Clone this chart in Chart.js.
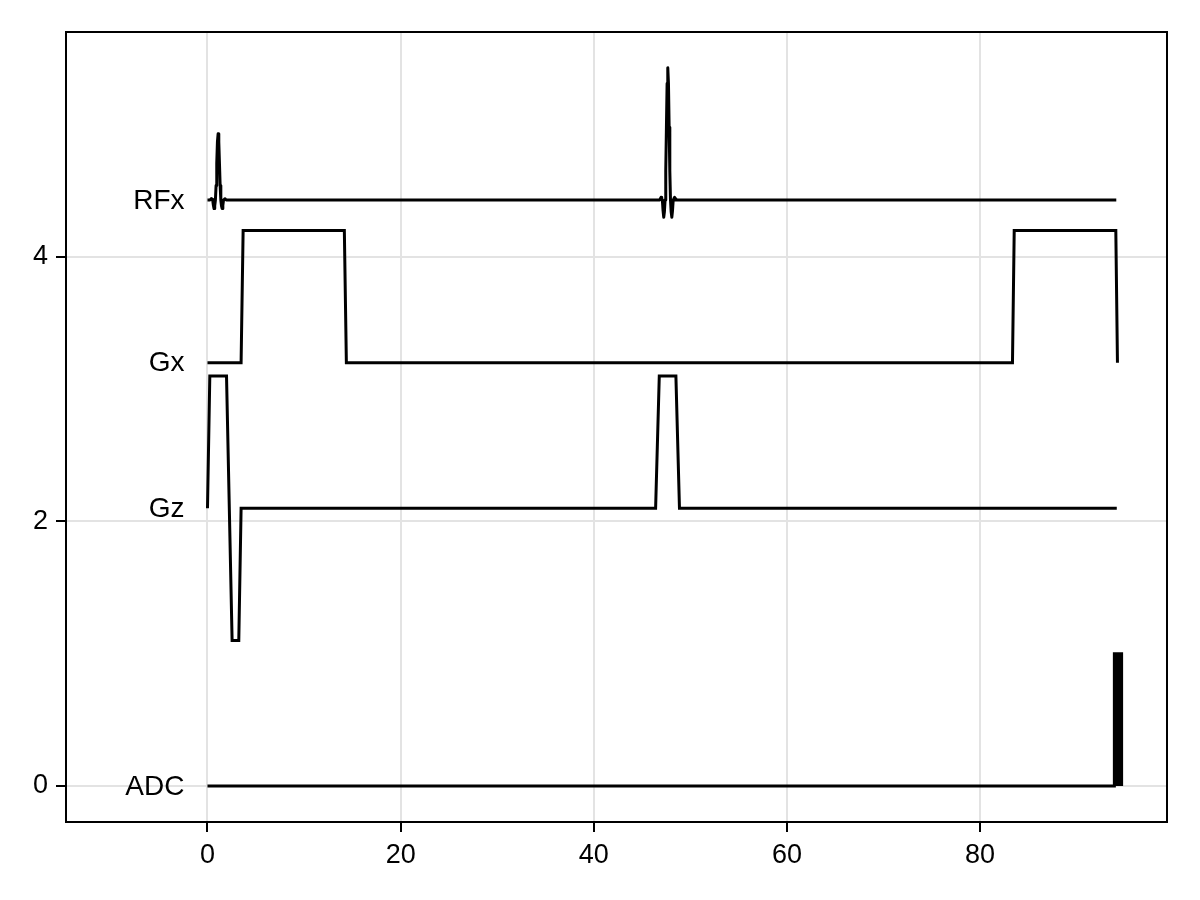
<!DOCTYPE html>
<html>
<head>
<meta charset="utf-8">
<script src="https://cdn.jsdelivr.net/npm/chart.js@4.4.1/dist/chart.umd.min.js"></script>
<style>
  body { margin: 0; background: #fff; }
  #wrap { width: 1200px; height: 900px; }
</style>
</head>
<body>
<div id="wrap"><canvas id="seqChart" width="1200" height="900"></canvas></div>
<script>
// tick values
const xTickValues = [0, 20, 40, 60, 80];
const yTickValues = [0, 2, 4];

// channel names and their baselines
const channelNames = ['RFx', 'Gx', 'Gz', 'ADC'];
const channelBaselines = [4.43, 3.2, 2.1, 0];

// RF pulse (two sinc pulses)
const rfX = [0, 0.26, 0.33, 0.40, 0.47, 0.54, 0.61, 0.68, 0.75, 0.82, 0.89, 0.96, 1.03, 1.10,
  1.17, 1.24, 1.31, 1.38, 1.45, 1.52, 1.59, 1.66, 1.73, 1.80, 1.87, 1.94,
  46.82, 46.89, 46.96, 47.03, 47.10, 47.17, 47.24, 47.31, 47.38, 47.45, 47.52, 47.59, 47.66,
  47.73, 47.80, 47.87, 47.94, 48.01, 48.08, 48.15, 48.22, 48.29, 48.36, 48.43, 48.50, 94.1];
const rfY = [4.43, 4.43, 4.435, 4.44, 4.435, 4.43, 4.39, 4.365, 4.385, 4.43, 4.54, 4.705, 4.87, 4.93,
  4.87, 4.705, 4.54, 4.43, 4.385, 4.365, 4.39, 4.43, 4.435, 4.44, 4.435, 4.43,
  4.43, 4.44, 4.45, 4.44, 4.43, 4.35, 4.30, 4.34, 4.43, 4.65, 4.98, 5.31, 5.43,
  5.31, 4.98, 4.65, 4.43, 4.34, 4.30, 4.35, 4.43, 4.44, 4.45, 4.44, 4.43, 4.43];

// Gx gradient
const gxX = [0, 3.48, 3.69, 14.17, 14.38, 83.35, 83.53, 94.05, 94.22];
const gxY = [3.2, 3.2, 4.2, 4.2, 3.2, 3.2, 4.2, 4.2, 3.2];

// Gz gradient
const gzX = [0, 0.24, 1.97, 2.55, 3.24, 3.48, 46.4, 46.78, 48.5, 48.87, 94.15];
const gzY = [2.1, 3.1, 3.1, 1.1, 1.1, 2.1, 2.1, 3.1, 3.1, 2.1, 2.1];

// ADC
const adcX = [0, 93.9, 93.9, 94.65, 94.65];
const adcY = [0, 0, 1, 1, 0];

const toPoints = (xs, ys) => xs.map((x, i) => ({ x: x, y: ys[i] }));

const fontFamily = '"Liberation Sans", Arial, sans-serif';

// frame + channel labels
const framePlugin = {
  id: 'frame',
  afterDraw(chart) {
    const ctx = chart.ctx;
    const a = chart.chartArea;
    const xs = chart.scales.x, ys = chart.scales.y;
    ctx.save();
    ctx.strokeStyle = '#000';
    ctx.lineWidth = 2;
    ctx.strokeRect(a.left, a.top, a.right - a.left, a.bottom - a.top);
    ctx.fillStyle = '#000';
    ctx.font = '28px ' + fontFamily;
    ctx.textAlign = 'right';
    ctx.textBaseline = 'middle';
    const xpos = xs.getPixelForValue(0) - 23;
    channelNames.forEach((name, i) => {
      ctx.fillText(name, xpos, ys.getPixelForValue(channelBaselines[i]) + 1);
    });
    ctx.restore();
  }
};

const lineStyle = {
  showLine: true,
  borderColor: '#000',
  backgroundColor: '#000',
  borderWidth: 3,
  pointRadius: 0,
  borderJoinStyle: 'miter',
  tension: 0
};

new Chart(document.querySelector('#seqChart'), {
  type: 'scatter',
  data: {
    datasets: [
      Object.assign({ label: 'RFx', data: toPoints(rfX, rfY) }, lineStyle, { borderJoinStyle: 'round' }),
      Object.assign({ label: 'Gx', data: toPoints(gxX, gxY) }, lineStyle),
      Object.assign({ label: 'Gz', data: toPoints(gzX, gzY) }, lineStyle),
      Object.assign({ label: 'ADC', data: toPoints(adcX, adcY), fill: 'origin' }, lineStyle)
    ]
  },
  options: {
    responsive: false,
    animation: false,
    devicePixelRatio: 1,
    layout: { padding: { top: 32, right: 33, left: 0, bottom: 0 } },
    plugins: {
      legend: { display: false },
      tooltip: { enabled: false }
    },
    scales: {
      x: {
        type: 'linear',
        min: -14.65,
        max: 99.35,
        afterBuildTicks: (scale) => { scale.ticks = xTickValues.map(v => ({ value: v })); },
        afterFit: (scale) => { scale.height = 78; },
        grid: { color: '#e3e3e3', lineWidth: 2, tickColor: '#000', tickLength: 10, tickWidth: 2 },
        border: { display: false },
        ticks: { color: '#000', font: { family: fontFamily, size: 27 }, padding: 7, maxRotation: 0 }
      },
      y: {
        type: 'linear',
        min: -0.272,
        max: 5.70,
        afterBuildTicks: (scale) => { scale.ticks = yTickValues.map(v => ({ value: v })); },
        afterFit: (scale) => { scale.width = 66; },
        grid: { color: '#e3e3e3', lineWidth: 2, tickColor: '#000', tickLength: 10, tickWidth: 2 },
        border: { display: false },
        ticks: { color: '#000', font: { family: fontFamily, size: 27 }, padding: 8 }
      }
    }
  },
  plugins: [framePlugin]
});
</script>
</body>
</html>
